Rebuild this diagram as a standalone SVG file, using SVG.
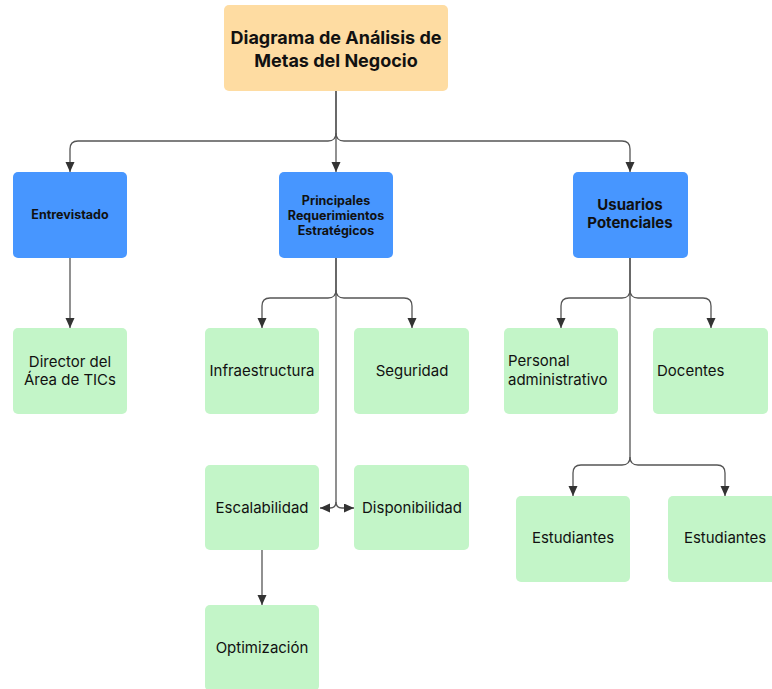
<svg xmlns="http://www.w3.org/2000/svg" width="772" height="689" viewBox="0 0 772 689">
<defs>
<style>
.peach{fill:#FEDCA2;}
.blue{fill:#4796FF;}
.green{fill:#C3F5C8;}
.t{font-family:Inter,"Liberation Sans",sans-serif;fill:#111;}
.tt{font-size:18px;font-weight:700;text-anchor:middle;}
.tb{font-size:12.5px;font-weight:700;text-anchor:middle;}
.tb15{font-size:15px;font-weight:700;text-anchor:middle;}
.tg{font-size:15px;text-anchor:middle;}
.tgl{font-size:15px;}
.c{fill:none;stroke:#555;stroke-width:1.3;}
</style>
<marker id="ah" markerUnits="userSpaceOnUse" markerWidth="10" markerHeight="10" refX="10" refY="4.5" orient="auto">
<path d="M0,0 L10,4.5 L0,9 z" fill="#333"/>
</marker>
</defs>
<rect width="772" height="689" fill="#fff"/>
<g id="connectors">
<path class="c" d="M336,91 V133 Q336,141 328,141 H78 Q70,141 70,149 V172" marker-end="url(#ah)"/>
<path class="c" d="M336,91 V172" marker-end="url(#ah)"/>
<path class="c" d="M336,133 Q336,141 344,141 H622 Q630,141 630,149 V172" marker-end="url(#ah)"/>
<path class="c" d="M70,258 V328" marker-end="url(#ah)"/>
<path class="c" d="M336,258 V290 Q336,298 328,298 H270 Q262,298 262,306 V328" marker-end="url(#ah)"/>
<path class="c" d="M336,290 Q336,298 344,298 H404 Q412,298 412,306 V328" marker-end="url(#ah)"/>
<path class="c" d="M336,258 V502 Q336,508 330,508 H320" marker-end="url(#ah)"/>
<path class="c" d="M336,502 Q336,508 342,508 H354" marker-end="url(#ah)"/>
<path class="c" d="M262,550 V605" marker-end="url(#ah)"/>
<path class="c" d="M630,258 V290 Q630,298 622,298 H569 Q561,298 561,306 V328" marker-end="url(#ah)"/>
<path class="c" d="M630,290 Q630,298 638,298 H703 Q711,298 711,306 V328" marker-end="url(#ah)"/>
<path class="c" d="M630,258 V457 Q630,465 622,465 H581 Q573,465 573,473 V496" marker-end="url(#ah)"/>
<path class="c" d="M630,457 Q630,465 638,465 H717 Q725,465 725,473 V496" marker-end="url(#ah)"/>
</g>
<g id="n-title">
<rect class="peach" x="224" y="5" width="224" height="86" rx="5"/>
<text class="t tt" x="336" y="44">Diagrama de Análisis de</text>
<text class="t tt" x="336" y="67">Metas del Negocio</text>
</g>
<g id="n-entrevistado">
<rect class="blue" x="13" y="172" width="114" height="86" rx="5"/>
<text class="t tb" x="70" y="219">Entrevistado</text>
</g>
<g id="n-principales">
<rect class="blue" x="279" y="172" width="114" height="86" rx="5"/>
<text class="t tb" x="336" y="205">Principales</text>
<text class="t tb" x="336" y="220">Requerimientos</text>
<text class="t tb" x="336" y="235">Estratégicos</text>
</g>
<g id="n-usuarios">
<rect class="blue" x="573" y="172" width="115" height="86" rx="5"/>
<text class="t tb15" x="630" y="210">Usuarios</text>
<text class="t tb15" x="630" y="228">Potenciales</text>
</g>
<g id="n-director">
<rect class="green" x="13" y="328" width="114" height="86" rx="5"/>
<text class="t tg" x="70" y="367">Director del</text>
<text class="t tg" x="70" y="385">Área de TICs</text>
</g>
<g id="n-infra">
<rect class="green" x="205" y="328" width="114" height="86" rx="5"/>
<text class="t tg" x="262" y="376">Infraestructura</text>
</g>
<g id="n-seguridad">
<rect class="green" x="354" y="328" width="115" height="86" rx="5"/>
<text class="t tg" x="412" y="376">Seguridad</text>
</g>
<g id="n-escalabilidad">
<rect class="green" x="205" y="465" width="114" height="85" rx="5"/>
<text class="t tg" x="262" y="513">Escalabilidad</text>
</g>
<g id="n-disponibilidad">
<rect class="green" x="354" y="465" width="115" height="85" rx="5"/>
<text class="t tg" x="412" y="513">Disponibilidad</text>
</g>
<g id="n-optimizacion">
<rect class="green" x="205" y="605" width="114" height="86" rx="5"/>
<text class="t tg" x="262" y="653">Optimización</text>
</g>
<g id="n-personal">
<rect class="green" x="504" y="328" width="114" height="86" rx="5"/>
<text class="t tgl" x="508" y="366">Personal</text>
<text class="t tgl" x="508" y="385">administrativo</text>
</g>
<g id="n-docentes">
<rect class="green" x="653" y="328" width="115" height="86" rx="5"/>
<text class="t tgl" x="657" y="376">Docentes</text>
</g>
<g id="n-estudiantes1">
<rect class="green" x="516" y="496" width="114" height="86" rx="5"/>
<text class="t tg" x="573" y="543">Estudiantes</text>
</g>
<g id="n-estudiantes2">
<rect class="green" x="668" y="496" width="114" height="86" rx="5"/>
<text class="t tg" x="725" y="543">Estudiantes</text>
</g>
</svg>
